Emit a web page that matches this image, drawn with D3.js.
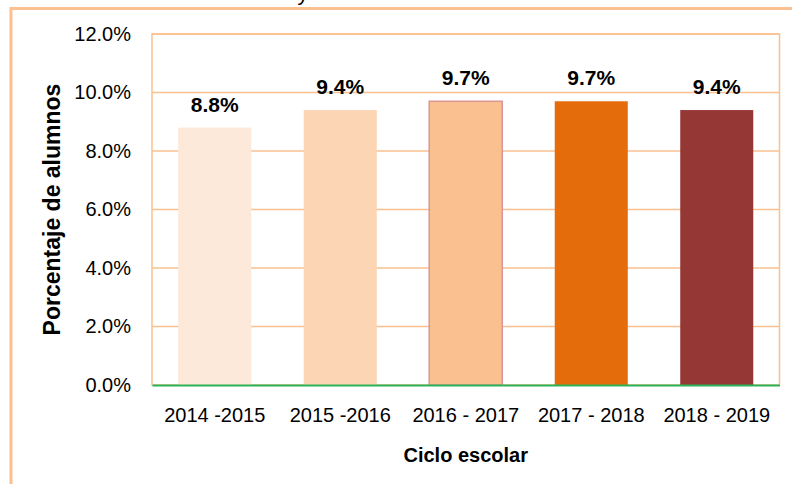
<!DOCTYPE html>
<html>
<head>
<meta charset="utf-8">
<script src="https://cdn.jsdelivr.net/npm/d3@7"></script>
<style>
  body { margin: 0; background: #fff; }
  svg { display: block; }
</style>
</head>
<body>
<div id="chart"></div>
<script>
// data
var cycles = ["2014 -2015", "2015 -2016", "2016 - 2017", "2017 - 2018", "2018 - 2019"];
var percents = [0.088, 0.094, 0.097, 0.097, 0.094];
var yTicks = [0, 0.02, 0.04, 0.06, 0.08, 0.10, 0.12];

var barColors = ["#fde9d9", "#fcd5b4", "#fac090", "#e46c0a", "#953735"];
var gridColor = "#fac090";

var W = 792, H = 484;
var plot = { left: 152, top: 34, right: 779.5, bottom: 385 };

var svg = d3.select("#chart").append("svg")
	.attr("width", W)
	.attr("height", H);

// outer frame, runs off the right and bottom of the picture
svg.append("path")
	.attr("d", "M11," + H + " L11,8.5 L" + W + ",8.5")
	.attr("fill", "none")
	.attr("stroke", gridColor)
	.attr("stroke-width", 3);

// cropped title (only a descender is visible in the original)
svg.append("text")
	.attr("x", 303)
	.attr("y", 0)
	.attr("font-family", "Liberation Sans, Arial, sans-serif")
	.attr("font-size", 22)
	.attr("text-anchor", "middle")
	.attr("fill", "#000")
	.text("y");

var x = d3.scaleBand()
	.domain(cycles)
	.range([plot.left, plot.right])
	.paddingInner(0.418)
	.paddingOuter(0.209);

var y = d3.scaleLinear()
	.domain([0, 0.12])
	.range([plot.bottom, plot.top]);

// gridlines
svg.append("g")
	.selectAll("line")
	.data(yTicks.slice(1))
	.join("line")
	.attr("x1", plot.left)
	.attr("x2", plot.right)
	.attr("y1", function(d){ return y(d); })
	.attr("y2", function(d){ return y(d); })
	.attr("stroke", gridColor)
	.attr("stroke-width", 1.5);

// plot area border
svg.append("rect")
	.attr("x", plot.left)
	.attr("y", plot.top)
	.attr("width", plot.right - plot.left)
	.attr("height", plot.bottom - plot.top)
	.attr("fill", "none")
	.attr("stroke", gridColor)
	.attr("stroke-width", 1.5);

// y axis labels
var yAxis = d3.axisLeft(y)
	.tickValues(yTicks)
	.tickFormat(d3.format(".1%"))
	.tickSize(0)
	.tickPadding(21);

var gy = svg.append("g")
	.attr("transform", "translate(" + plot.left + ",0)")
	.call(yAxis);
gy.select(".domain").remove();
gy.selectAll("text")
	.attr("font-family", "Liberation Sans, Arial, sans-serif")
	.attr("font-size", 20)
	.attr("fill", "#000");

// bars
svg.append("g")
	.selectAll("rect")
	.data(percents)
	.join("rect")
	.attr("x", function(d, i){ return x(cycles[i]); })
	.attr("y", function(d){ return y(d); })
	.attr("width", x.bandwidth())
	.attr("height", function(d){ return y(0) - y(d); })
	.attr("fill", function(d, i){ return barColors[i]; })
	.attr("stroke", function(d, i){ return i === 2 ? "#d99694" : "none"; })
	.attr("stroke-width", 1.5);

// value labels
svg.append("g")
	.selectAll("text")
	.data(percents)
	.join("text")
	.attr("x", function(d, i){ return x(cycles[i]) + x.bandwidth() / 2; })
	.attr("y", function(d){ return y(d) - 16; })
	.attr("text-anchor", "middle")
	.attr("font-family", "Liberation Sans, Arial, sans-serif")
	.attr("font-size", 21)
	.attr("font-weight", "bold")
	.attr("fill", "#000")
	.text(function(d){ return d3.format(".1%")(d); });

// x axis (green baseline)
var xAxis = d3.axisBottom(x)
	.tickSize(0)
	.tickPadding(23);

var gx = svg.append("g")
	.attr("transform", "translate(0," + plot.bottom + ")")
	.call(xAxis);
gx.select(".domain")
	.attr("stroke", "#2db357")
	.attr("stroke-width", 2);
gx.selectAll("text")
	.attr("font-family", "Liberation Sans, Arial, sans-serif")
	.attr("font-size", 20)
	.attr("fill", "#000");

// axis titles
svg.append("text")
	.attr("transform", "translate(60," + (plot.top + plot.bottom) / 2 + ") rotate(-90)")
	.attr("text-anchor", "middle")
	.attr("font-family", "Liberation Sans, Arial, sans-serif")
	.attr("font-size", 23)
	.attr("font-weight", "bold")
	.attr("fill", "#000")
	.text("Porcentaje de alumnos");

svg.append("text")
	.attr("x", (plot.left + plot.right) / 2)
	.attr("y", 462)
	.attr("text-anchor", "middle")
	.attr("font-family", "Liberation Sans, Arial, sans-serif")
	.attr("font-size", 20)
	.attr("font-weight", "bold")
	.attr("fill", "#000")
	.text("Ciclo escolar");
</script>
</body>
</html>
